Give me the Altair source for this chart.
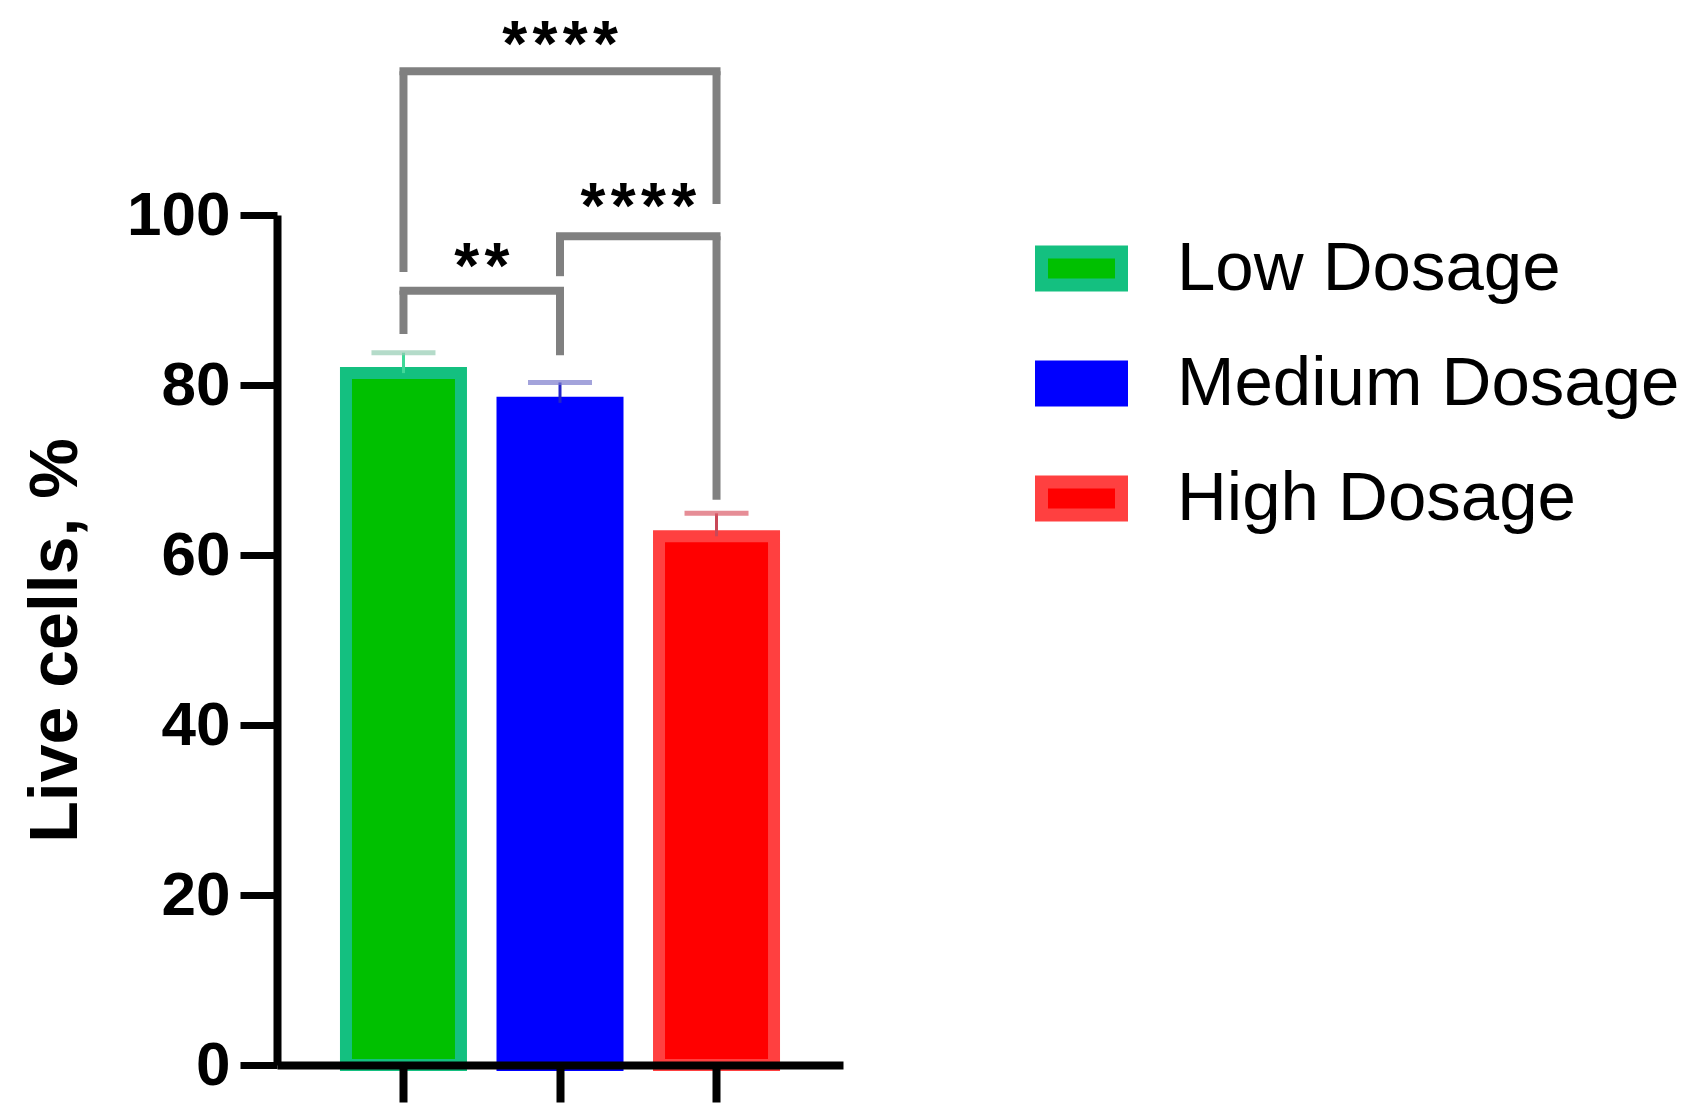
import altair as alt
import pandas as pd

# ---- data ----
categories = ["Low Dosage", "Medium Dosage", "High Dosage"]
means = [81.4, 77.9, 62.2]
errors = [2.4, 2.4, 2.7]
fill_colors = ["#00c000", "#0000ff", "#ff0000"]
border_colors = ["#14c080", "#0000ff", "#ff4040"]
stem_colors = ["#40d898", "#2424c8", "#c84858"]
cap_colors = ["#94ccb2", "#7c7ccc", "#dc5c6a"]

# significance brackets
bracket_from = ["Low Dosage", "Low Dosage", "Medium Dosage"]
bracket_to = ["High Dosage", "Medium Dosage", "High Dosage"]
bracket_level = [116.9, 91.1, 97.5]
leg_from_end = [93.3, 86.0, 92.8]
leg_to_end = [101.3, 83.5, 66.5]

# star labels: anchor category and whether centred on it or placed after it
HS = "\u200a"
star_text = [HS.join("****"), HS.join("**"), HS.join("****")]
star_anchor = ["Medium Dosage", "Low Dosage", "Medium Dosage"]
star_between = [False, True, True]
star_level = [119.8, 93.7, 100.7]

y_ticks = [0, 20, 40, 60, 80, 100]

FONT = "Liberation Sans"

bars_df = pd.DataFrame({
    "group": categories,
    "mean": means,
    "upper": [m + e for m, e in zip(means, errors)],
    "stem": stem_colors,
    "cap": cap_colors,
})

h_df = pd.DataFrame({"a": bracket_from, "b": bracket_to, "level": bracket_level})
legs_df = pd.DataFrame({
    "group": bracket_from + bracket_to,
    "level": bracket_level + bracket_level,
    "end": leg_from_end + leg_to_end,
})
stars_df = pd.DataFrame({
    "group": star_anchor,
    "level": star_level,
    "text": star_text,
    "between": star_between,
})

x_scale = alt.Scale(domain=categories, paddingInner=0, paddingOuter=0.308)
x_axis = alt.Axis(title=None, labels=False, ticks=True, tickSize=37, tickWidth=8,
                  tickColor="black", domainColor="black", domainWidth=8,
                  grid=False, zindex=1)
y_scale = alt.Scale(domain=[0, 100], nice=False, zero=True)
y_axis = alt.Axis(title="Live cells, %", values=y_ticks, tickSize=37, tickWidth=7,
                  tickColor="black", domainColor="black", domainWidth=8,
                  labelFont=FONT, labelFontSize=62, labelFontWeight="bold",
                  labelColor="black", labelPadding=10,
                  titleFont=FONT, titleFontSize=68, titleFontWeight="bold",
                  titleColor="black", titlePadding=36, grid=False, zindex=1)


def X(field, **kw):
    return alt.X(field, type="nominal", scale=x_scale, axis=x_axis, **kw)


def Y(field):
    return alt.Y(field, type="quantitative", scale=y_scale, axis=y_axis)


legend = alt.Legend(title=None, orient="none", legendX=758, legendY=7,
                    symbolType="M-1,-0.41H1V0.41H-1Z", symbolSize=6400,
                    symbolStrokeWidth=13, labelFont=FONT, labelFontSize=69,
                    labelColor="black", labelOffset=49, rowPadding=26,
                    labelLimit=0, padding=0, symbolOpacity=1)

bars = alt.Chart(bars_df).mark_bar(size=115, strokeWidth=12).encode(
    x=X("group"),
    y=Y("mean"),
    fill=alt.Fill("group:N", scale=alt.Scale(domain=categories, range=fill_colors), legend=legend),
    stroke=alt.Stroke("group:N", scale=alt.Scale(domain=categories, range=border_colors), legend=legend),
)

stems = alt.Chart(bars_df).mark_rule(strokeWidth=3).encode(
    x=X("group"),
    y=Y("mean"),
    y2="upper:Q",
    color=alt.Color("stem:N", scale=None),
)

caps = alt.Chart(bars_df).mark_tick(size=64, thickness=5, orient="horizontal").encode(
    x=X("group"),
    y=Y("upper"),
    color=alt.Color("cap:N", scale=None),
)

h_rules = alt.Chart(h_df).mark_rule(strokeWidth=8, color="#808080", strokeCap="square").encode(
    x=X("a"),
    x2="b:N",
    y=Y("level"),
)

legs = alt.Chart(legs_df).mark_rule(strokeWidth=8, color="#808080").encode(
    x=X("group"),
    y=Y("level"),
    y2="end:Q",
)

star_style = dict(font=FONT, fontSize=64, fontWeight="bold", color="black",
                  align="center", baseline="middle")

stars_center = alt.Chart(stars_df).transform_filter("!datum.between").mark_text(**star_style).encode(
    x=X("group"),
    y=Y("level"),
    text="text:N",
)
stars_between = alt.Chart(stars_df).transform_filter("datum.between").mark_text(**star_style).encode(
    x=X("group", bandPosition=1),
    y=Y("level"),
    text="text:N",
)

chart = alt.layer(bars, stems, caps, h_rules, legs, stars_center, stars_between).properties(
    width=566,
    height=850,
    background="white",
    autosize=alt.AutoSizeParams(type="none"),
    padding={"left": 269, "top": 207, "right": 844, "bottom": 40},
).configure_view(stroke=None)

chart.save("out.html", embed_options={"renderer": "svg", "actions": False})
